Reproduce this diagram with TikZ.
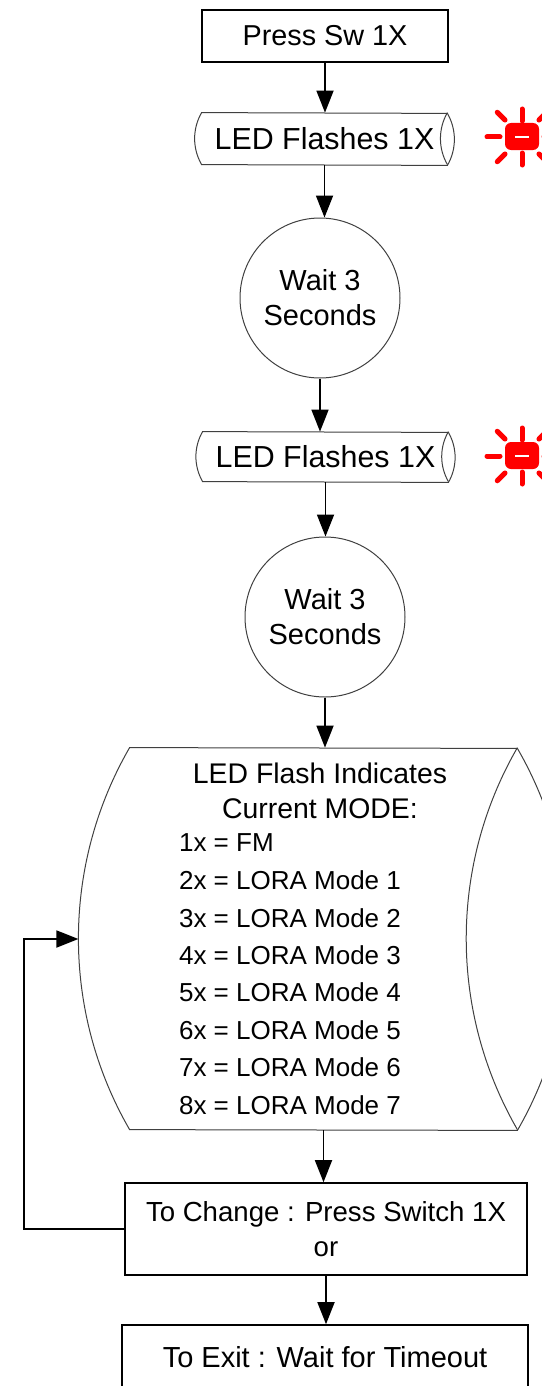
\documentclass[tikz,border=0pt]{standalone}
\usepackage{fontspec}
\setmainfont{Liberation Sans}
\usepackage{tikz}
\usetikzlibrary{arrows.meta}
\tikzstyle{arrow}=[-{Triangle[length=11pt,width=8.5pt]},line width=.9pt,draw=black]
\tikzstyle{box}=[draw=black,line width=.8pt,rectangle,inner sep=0pt,align=center]
\tikzstyle{pipe}=[rectangle,inner sep=0pt,font=\fontsize{15.2}{17.5}\selectfont]
\tikzstyle{pipeline}=[draw=black!75,line width=.5pt]
\tikzstyle{wait}=[draw=black!75,line width=.5pt,circle,minimum size=80pt,inner sep=0pt,align=center,font=\fontsize{14.5}{17.5}\selectfont]
\tikzstyle{ray}=[red,line width=2.5pt,line cap=round]
% outline of a lying cylinder round a node: name, arc radius (= node height)
\newcommand{\pipeshape}[2]{%
	\draw[pipeline] (#1.north west) arc[start angle=150,end angle=210,radius=#2]
		-- (#1.south east) arc[start angle=-30,end angle=30,radius=#2] -- cycle;
	\draw[pipeline] (#1.north east) arc[start angle=150,end angle=210,radius=#2];}
\newcommand{\ledsign}[1]{%
	\begin{scope}[shift={#1}]
		\foreach \a/\ri/\ro in {0/22/35,45/24/35,90/16/28,135/24/35,180/22/35,225/24/35,270/16/28,315/24/35}
			\draw[ray] (\a:\ri) -- (\a:\ro);
		\fill[red,rounded corners=3pt] (-17,-14) rectangle (17,13);
		\draw[white,line width=1pt] (-7,0) -- (7,0);
	\end{scope}}

\begin{document}
\begin{tikzpicture}[y=-.5pt, x=.5pt,font=\fontsize{13}{17.5}\selectfont]
	\useasboundingbox (0,0) rectangle (541,1386);

	\node[box,minimum width=123pt,minimum height=26pt,font=\fontsize{14.4}{17.5}\selectfont] (sw) at (325,36) {Press Sw 1X};
	\node[pipe,minimum width=122.5pt,minimum height=26pt] (led1) at (324.5,139) {LED Flashes 1X};
	\node[wait] (wait1) at (320,298) {Wait 3\\Seconds};
	\node[pipe,minimum width=122.5pt,minimum height=25pt] (led2) at (325.5,457) {LED Flashes 1X};
	\node[wait] (wait2) at (325,617) {Wait 3\\Seconds};
	\node[pipe,minimum width=193.5pt,minimum height=191pt] (modes) at (323.5,939) {};
	\node[box,minimum width=201pt,minimum height=46pt,font=\fontsize{13.8}{17.5}\selectfont] (change) at (326,1229) {To Change : Press Switch 1X\\or};
	\node[box,minimum width=203pt,minimum height=32pt,font=\fontsize{14.5}{17.5}\selectfont] (exit) at (325,1357) {To Exit : Wait for Timeout};

	\pipeshape{led1}{26pt}
	\pipeshape{led2}{25pt}
	\pipeshape{modes}{191pt}
	\coordinate (modesin) at ([xshift=-25.6pt]modes.west);

	%led signs
	\ledsign{(522,137)}
	\ledsign{(522,456)}

	%mode list
	\node[align=center,font=\fontsize{14.2}{17.5}\selectfont] (title) at (320,791) {LED Flash Indicates\\Current MODE:};
	\node[anchor=west] (m1) at (172,843) {1x = FM};
	\foreach \i in {2,...,8}{
		\pgfmathtruncatemacro\m{\i-1}
		\node[anchor=west] (m\i) at (172,{843+37.4*(\i-1)}) {\i x = LORA Mode \m};
	}

	%arrows
	\draw[arrow] (sw.south) -- (sw.south |- led1.north);
	\draw[arrow] (led1.south) -- (led1.south |- wait1.north);
	\draw[arrow] (wait1.south) -- (wait1.south |- led2.north);
	\draw[arrow] (led2.south) -- (led2.south |- wait2.north);
	\draw[arrow] (wait2.south) -- (wait2.south |- modes.north);
	\draw[arrow] (modes.south) -- (modes.south |- change.north);
	\draw[arrow] (change.south) -- (change.south |- exit.north);
	\draw[arrow] (change.west) -- ++(-100,0) |- (modesin);
\end{tikzpicture}
\end{document}
